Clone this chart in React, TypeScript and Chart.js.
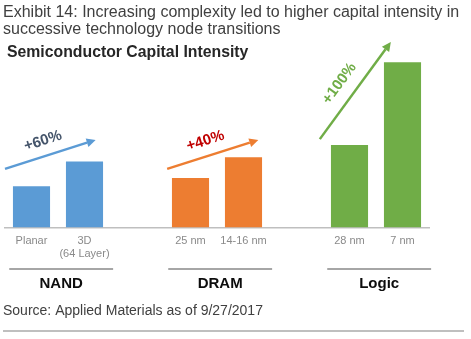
import { useEffect, useRef } from "react";
import { Chart, registerables } from "chart.js";

Chart.register(...registerables);

const titleLines = [
  "Exhibit 14: Increasing complexity led to higher capital intensity in",
  "successive technology node transitions",
];
const subtitle = "Semiconductor Capital Intensity";
const sourceText = "Source: Applied Materials as of 9/27/2017";

const groupNames = ["NAND", "DRAM", "Logic"];
const nandLabels: (string | string[])[] = ["Planar", ["3D", "(64 Layer)"]];
const dramLabels: (string | string[])[] = ["25 nm", "14-16 nm"];
const logicLabels: (string | string[])[] = ["28 nm", "7 nm"];
const nandValues = [1.0, 1.6];
const dramValues = [1.2, 1.7];
const logicValues = [2.0, 4.0];
const increaseLabels = ["+60%", "+40%", "+100%"];
// arrow annotations in data units: [category index, value]
const arrowStarts = [
  [-0.5, 1.42],
  [2.56, 1.42],
  [5.44, 2.14],
];
const arrowEnds = [
  [1.21, 2.12],
  [4.28, 2.12],
  [6.78, 4.49],
];

const barColors = ["#5b9bd5", "#ed7d31", "#70ad47"];
const labelColors = ["#44546a", "#c00000", "#70ad47"];
const FONT = '"Liberation Sans", Arial, Helvetica, sans-serif';

// build categories: group, spacer, group, spacer, group
const groupLabels = [nandLabels, dramLabels, logicLabels];
const groupValues = [nandValues, dramValues, logicValues];
const categories: (string | string[])[] = [];
const groupStart: number[] = [];
groupLabels.forEach((labels, gi) => {
  if (gi > 0) categories.push(" ".repeat(gi));
  groupStart.push(categories.length);
  labels.forEach((l) => categories.push(l));
});
const datasets = groupValues.map((vals, gi) => {
  const data: (number | null)[] = categories.map(() => null);
  vals.forEach((v, i) => {
    data[groupStart[gi] + i] = v;
  });
  return {
    label: groupNames[gi],
    data,
    backgroundColor: barColors[gi],
    borderWidth: 0,
    barPercentage: 0.7,
    categoryPercentage: 1.0,
    grouped: false,
  };
});

const overlayPlugin = {
  id: "overlay",
  afterDraw(chart: any) {
    const ctx = chart.ctx as CanvasRenderingContext2D;
    const xs = chart.scales.x;
    const ys = chart.scales.y;
    ctx.save();
    ctx.textAlign = "left";
    ctx.textBaseline = "alphabetic";
    ctx.fillStyle = "#404040";
    ctx.font = `16px ${FONT}`;
    ctx.fillText(titleLines[0], 3, 16.7);
    ctx.fillText(titleLines[1], 3, 34.3);
    ctx.fillStyle = "#262626";
    ctx.font = `bold 15.8px ${FONT}`;
    ctx.fillText(subtitle, 7, 56.7);

    // arrows
    arrowStarts.forEach((s, i) => {
      const e = arrowEnds[i];
      const x0 = xs.getPixelForValue(s[0]);
      const y0 = ys.getPixelForValue(s[1]);
      const x1 = xs.getPixelForValue(e[0]);
      const y1 = ys.getPixelForValue(e[1]);
      const dx = x1 - x0;
      const dy = y1 - y0;
      const len = Math.hypot(dx, dy);
      const ux = dx / len;
      const uy = dy / len;
      const head = 9;
      const hw = 4.5;
      ctx.strokeStyle = barColors[i];
      ctx.fillStyle = barColors[i];
      ctx.lineWidth = 2.5;
      ctx.beginPath();
      ctx.moveTo(x0, y0);
      ctx.lineTo(x1 - ux * head, y1 - uy * head);
      ctx.stroke();
      ctx.beginPath();
      ctx.moveTo(x1, y1);
      ctx.lineTo(x1 - ux * head - uy * hw, y1 - uy * head + ux * hw);
      ctx.lineTo(x1 - ux * head + uy * hw, y1 - uy * head - ux * hw);
      ctx.closePath();
      ctx.fill();
      // label
      const f = 0.47;
      const off = i === 2 ? 17 : 15;
      const px = x0 + dx * f + uy * off;
      const py = y0 + dy * f - ux * off;
      ctx.save();
      ctx.translate(px, py);
      ctx.rotate(Math.atan2(dy, dx));
      ctx.font = `bold 15px ${FONT}`;
      ctx.fillStyle = labelColors[i];
      ctx.textAlign = "center";
      ctx.textBaseline = "middle";
      ctx.fillText(increaseLabels[i], 0, 0);
      ctx.restore();
    });

    // group separators and names
    groupLabels.forEach((labels, gi) => {
      const a = xs.getPixelForValue(groupStart[gi] - 0.42);
      const b = xs.getPixelForValue(groupStart[gi] + labels.length - 1 + 0.54);
      ctx.strokeStyle = "#a6a6a6";
      ctx.lineWidth = 2;
      ctx.beginPath();
      ctx.moveTo(a, 269);
      ctx.lineTo(b, 269);
      ctx.stroke();
      ctx.fillStyle = "#0d0d0d";
      ctx.font = `bold 15px ${FONT}`;
      ctx.textAlign = "center";
      ctx.textBaseline = "alphabetic";
      ctx.fillText(groupNames[gi], (a + b) / 2, 288);
    });

    // source
    ctx.textAlign = "left";
    ctx.fillStyle = "#404040";
    ctx.font = `14px ${FONT}`;
    ctx.fillText(sourceText, 3, 314.5);
    ctx.strokeStyle = "#bfbfbf";
    ctx.lineWidth = 2;
    ctx.beginPath();
    ctx.moveTo(3, 331);
    ctx.lineTo(464, 331);
    ctx.stroke();
    ctx.restore();
  },
};

export default function App() {
  const ref = useRef<HTMLCanvasElement>(null);
  useEffect(() => {
    if (!ref.current) return;
    const chart = new Chart(ref.current, {
      type: "bar",
      data: { labels: categories, datasets },
      options: {
        responsive: false,
        animation: false,
        devicePixelRatio: 1,
        layout: { padding: { left: 5, right: 42, top: 21, bottom: 61.5 } },
        plugins: {
          legend: { display: false },
          tooltip: { enabled: false },
          title: { display: false },
        },
        scales: {
          x: {
            offset: true,
            grid: { display: false, drawTicks: false },
            border: { display: true, color: "#bfbfbf", width: 1.5 },
            ticks: {
              autoSkip: false,
              maxRotation: 0,
              minRotation: 0,
              padding: 7,
              color: "#8a8a8a",
              font: { family: FONT, size: 11, lineHeight: 1.2 },
            },
            afterFit: (scale: any) => {
              scale.height = 50;
            },
          },
          y: {
            display: false,
            min: 0,
            max: 5,
          },
        },
      },
      plugins: [overlayPlugin],
    } as any);
    return () => chart.destroy();
  }, []);
  return (
    <div style={{ position: "absolute", left: 0, top: 0, width: 471, height: 339, background: "#fff" }}>
      <canvas ref={ref} width={471} height={339} />
    </div>
  );
}
